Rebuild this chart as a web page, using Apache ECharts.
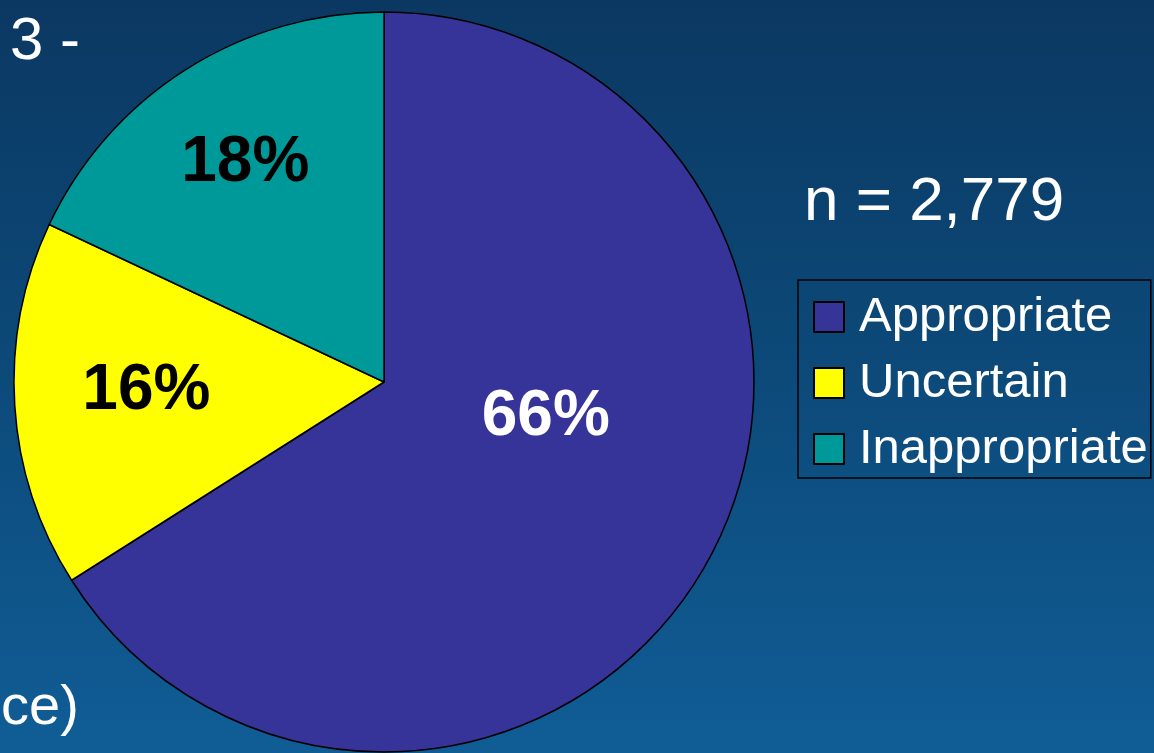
<!DOCTYPE html>
<html>
<head>
<meta charset="utf-8">
<script src="https://cdn.jsdelivr.net/npm/echarts@6/dist/echarts.min.js"></script>
<style>
html,body{margin:0;padding:0;background:#0b3862;}
#main{width:1154px;height:753px;}
</style>
</head>
<body>
<div id="main"></div>
<script>
const categories = ['Appropriate', 'Uncertain', 'Inappropriate'];
const values = [66, 16, 18];
const sliceColors = ['#363399', '#ffff00', '#009999'];
const labelColors = ['#ffffff', '#000000', '#000000'];
const labelOffsets = [[-3, -55], [-50, -2], [-38, -60]];
const noteText = 'n = 2,779';

const chart = echarts.init(document.getElementById('main'));
const FONT = '"Liberation Sans", Arial, Helvetica, sans-serif';

chart.setOption({
  backgroundColor: {
    type: 'linear', x: 0, y: 0, x2: 0, y2: 1,
    colorStops: [
      {offset: 0, color: '#0b3862'},
      {offset: 0.45, color: '#0c4877'},
      {offset: 1, color: '#105d96'}
    ]
  },
  animation: false,
  graphic: [
    {type: 'text', left: 10, top: 12, z: 0,
      style: {text: '3 -', font: '60px ' + FONT, fill: '#ffffff'}},
    {type: 'text', left: 1, top: 681, z: 0,
      style: {text: 'ce)', font: '56px ' + FONT, fill: '#ffffff'}},
    {type: 'text', left: 804, top: 172, z: 5,
      style: {text: noteText, font: '62px ' + FONT, fill: '#ffffff'}}
  ],
  legend: {
    orient: 'vertical',
    left: 798,
    top: 280,
    padding: [12, 3, 4, 15],
    borderColor: '#000000',
    borderWidth: 1.5,
    itemWidth: 30,
    itemHeight: 30,
    itemGap: 16,
    icon: 'rect',
    selectedMode: false,
    itemStyle: {borderColor: '#000000', borderWidth: 2},
    textStyle: {color: '#ffffff', fontSize: 49, fontFamily: FONT, lineHeight: 50, padding: [0, 0, 0, 10]},
    data: categories
  },
  series: [{
    type: 'pie',
    center: [384, 382],
    radius: 370,
    startAngle: 90,
    clockwise: true,
    silent: true,
    itemStyle: {borderColor: '#000000', borderWidth: 1.5},
    label: {
      show: true,
      position: 'inside',
      fontSize: 64,
      fontWeight: 'bold',
      fontFamily: FONT,
      formatter: '{c}%'
    },
    labelLine: {show: false},
    data: categories.map((c, i) => ({
      name: c,
      value: values[i],
      itemStyle: {color: sliceColors[i]},
      label: {color: labelColors[i], offset: labelOffsets[i]}
    }))
  }]
});
</script>
</body>
</html>
